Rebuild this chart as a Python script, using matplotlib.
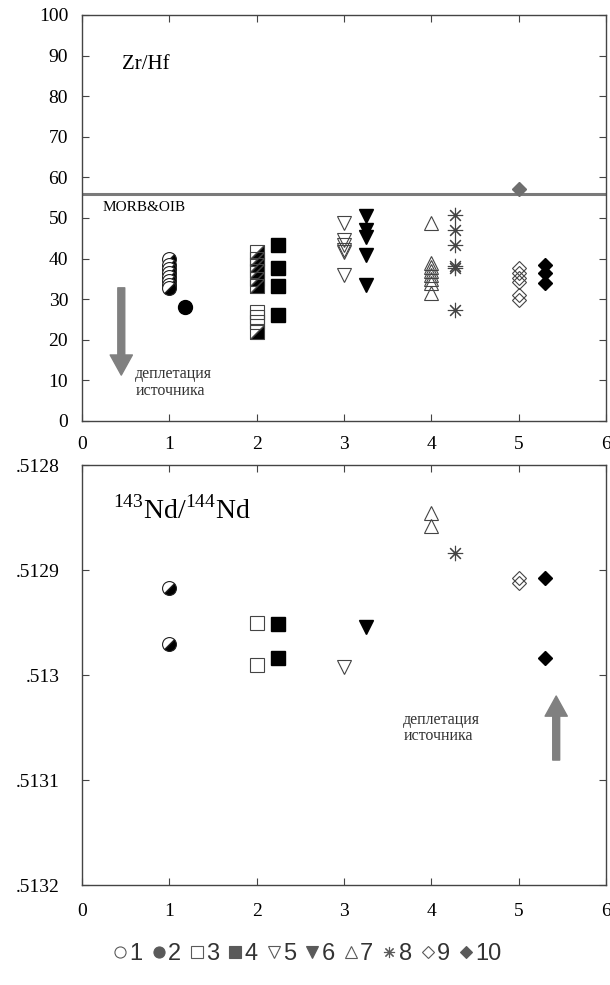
import matplotlib
matplotlib.use("Agg")
import matplotlib.pyplot as plt
from matplotlib.markers import MarkerStyle
from matplotlib.transforms import Affine2D
from matplotlib.lines import Line2D
from matplotlib.font_manager import FontProperties

plt.rcParams["font.family"] = ["Liberation Serif", "DejaVu Serif"]
plt.rcParams["mathtext.fontset"] = "custom"
plt.rcParams["mathtext.rm"] = "Liberation Serif"

# x position of every group (1..10) on the common x axis
group_x = [1.0, 1.18, 2.0, 2.25, 3.0, 3.25, 4.0, 4.27, 5.0, 5.3]

# Zr/Hf values per group
zr_g1 = [39.8, 38.5, 37.5, 36.5, 35.5, 34.5, 33.5, 32.7]
zr_g2 = [28.0]
zr_g3_half = [41.6, 40.0, 38.5, 37.0, 35.0, 33.2, 21.9]
zr_g3_open = [26.8, 25.6, 24.4]
zr_g4 = [43.3, 37.7, 33.3, 26.1]
zr_g5 = [48.8, 44.6, 43.3, 42.1, 41.5, 36.0]
zr_g6 = [50.5, 47.0, 45.3, 40.9, 33.5]
zr_g7 = [48.8, 39.0, 38.0, 37.0, 36.0, 35.0, 34.0, 31.5]
zr_g8 = [50.7, 47.0, 43.3, 38.2, 37.7, 27.3]
zr_g9 = [37.7, 36.5, 35.2, 34.2, 31.0, 29.8]
zr_g10 = [38.4, 36.5, 34.0]
zr_g10_grey = [57.1]
morb_oib = 56.0

# 143Nd/144Nd values per group
nd_g1 = [0.512917, 0.512970]
nd_g3 = [0.512950, 0.512990]
nd_g4 = [0.512951, 0.512984]
nd_g5 = [0.512992]
nd_g6 = [0.512954]
nd_g7 = [0.512846, 0.512858]
nd_g8 = [0.512884]
nd_g9 = [0.512908, 0.512912]
nd_g10 = [0.512908, 0.512984]

zr_ticks = [0, 10, 20, 30, 40, 50, 60, 70, 80, 90, 100]
nd_ticks = [0.5128, 0.5129, 0.5130, 0.5131, 0.5132]
nd_tick_labels = [".5128", ".5129", ".513", ".5131", ".5132"]
x_ticks = [0, 1, 2, 3, 4, 5, 6]
legend_labels = ["1", "2", "3", "4", "5", "6", "7", "8", "9", "10"]

EDGE = "#222222"
half_circle = MarkerStyle("o", fillstyle="right", transform=Affine2D().rotate_deg(-45))
half_square = MarkerStyle("D", fillstyle="right", transform=Affine2D().rotate_deg(-45))
asterisk = (8, 2, 0)

styles = {
    "half_circle": dict(marker=half_circle, ms=10, mfc="black", mfcalt="white", mec=EDGE, mew=0.8),
    "circle": dict(marker="o", ms=10, mfc="black", mec="black"),
    "half_square": dict(marker=half_square, ms=10, mfc="black", mfcalt="none", mec="#444444", mew=0.8),
    "open_square": dict(marker="s", ms=10, mfc="none", mec="#444444", mew=0.8),
    "square": dict(marker="s", ms=10, mfc="black", mec="black"),
    "open_down": dict(marker="v", ms=10, mfc="none", mec="#444444", mew=0.8),
    "down": dict(marker="v", ms=10, mfc="black", mec="black"),
    "open_up": dict(marker="^", ms=10, mfc="none", mec="#444444", mew=0.8),
    "star": dict(marker=asterisk, ms=11, mec="#444444", mew=0.8),
    "open_diamond": dict(marker="D", ms=7, mfc="none", mec="#444444", mew=0.8),
    "diamond": dict(marker="D", ms=7, mfc="black", mec="black"),
    "grey_diamond": dict(marker="D", ms=7, mfc="#6e6e6e", mec="#6e6e6e"),
}


def draw(ax, x, values, style):
    ax.plot([x] * len(values), values, linestyle="none", **styles[style])


def style_axes(ax):
    for spine in ax.spines.values():
        spine.set_color("#444444")
        spine.set_linewidth(1.0)
    ax.tick_params(direction="in", top=True, right=True, length=5, width=0.8,
                   color="#444444", labelsize=14)
    ax.set_xlim(0, 6)
    ax.set_xticks(x_ticks)


fig = plt.figure(figsize=(6.1, 9.85), dpi=100)
ax1 = fig.add_axes([0.1344, 0.5726, 0.859, 0.4122])
ax2 = fig.add_axes([0.1344, 0.1015, 0.859, 0.4264])

# ---- Zr/Hf ----
style_axes(ax1)
ax1.set_ylim(0, 100)
ax1.set_yticks(zr_ticks)
ax1.tick_params(axis="y", pad=10)
ax1.tick_params(axis="x", pad=11)
ax1.axhline(morb_oib, color="#7a7a7a", lw=2.2, zorder=1)

draw(ax1, group_x[0], zr_g1, "half_circle")
draw(ax1, group_x[1], zr_g2, "circle")
draw(ax1, group_x[2], zr_g3_open, "open_square")
draw(ax1, group_x[2], zr_g3_half, "half_square")
draw(ax1, group_x[3], zr_g4, "square")
draw(ax1, group_x[4], zr_g5, "open_down")
draw(ax1, group_x[5], zr_g6, "down")
draw(ax1, group_x[6], zr_g7, "open_up")
draw(ax1, group_x[7], zr_g8, "star")
draw(ax1, group_x[8], zr_g9, "open_diamond")
draw(ax1, group_x[9], zr_g10, "diamond")
draw(ax1, group_x[8], zr_g10_grey, "grey_diamond")

ax1.text(0.46, 87.7, "Zr/Hf", fontsize=15, va="center", ha="left")
ax1.text(0.24, 52.5, "MORB&OIB", fontsize=11, va="center", ha="left")
ax1.annotate("", xy=(0.45, 11.3), xytext=(0.45, 32.8),
             arrowprops=dict(arrowstyle="simple,head_length=1.45,head_width=1.6,tail_width=0.5",
                             color="#808080", shrinkA=0, shrinkB=0, mutation_scale=10))
ax1.text(0.61, 13.5, "деплетация\nисточника", fontsize=11.5, va="top", ha="left",
         color="#333333", linespacing=1.05)

# ---- 143Nd/144Nd ----
style_axes(ax2)
ax2.set_ylim(0.5132, 0.5128)
ax2.set_yticks(nd_ticks, nd_tick_labels)
ax2.tick_params(axis="y", pad=16)
ax2.tick_params(axis="x", pad=13)

draw(ax2, group_x[0], nd_g1, "half_circle")
draw(ax2, group_x[2], nd_g3, "open_square")
draw(ax2, group_x[3], nd_g4, "square")
draw(ax2, group_x[4], nd_g5, "open_down")
draw(ax2, group_x[5], nd_g6, "down")
draw(ax2, group_x[6], nd_g7, "open_up")
draw(ax2, group_x[7], nd_g8, "star")
draw(ax2, group_x[8], nd_g9, "open_diamond")
draw(ax2, group_x[9], nd_g10, "diamond")

ax2.text(0.35, 0.512843, r"$^{143}$Nd/$^{144}$Nd", fontsize=20, va="center", ha="left")
ax2.annotate("", xy=(5.43, 0.51302), xytext=(5.43, 0.513081),
             arrowprops=dict(arrowstyle="simple,head_length=1.45,head_width=1.6,tail_width=0.5",
                             color="#808080", shrinkA=0, shrinkB=0, mutation_scale=10))
ax2.text(3.68, 0.513035, "деплетация\nисточника", fontsize=11.5, va="top", ha="left",
         color="#333333", linespacing=1.05)

# ---- legend row ----
grey = "#5a5a5a"
legend_markers = [
    dict(marker="o", mfc="none", mec=grey),
    dict(marker="o", mfc=grey, mec=grey),
    dict(marker="s", mfc="none", mec=grey),
    dict(marker="s", mfc=grey, mec=grey),
    dict(marker="v", mfc="none", mec=grey),
    dict(marker="v", mfc=grey, mec=grey),
    dict(marker="^", mfc="none", mec=grey),
    dict(marker=asterisk, mec=grey),
    dict(marker="D", mfc="none", mec=grey, ms=6),
    dict(marker="D", mfc=grey, mec=grey, ms=6),
]
handles = []
for label, kw in zip(legend_labels, legend_markers):
    kw = dict(kw)
    kw.setdefault("ms", 8)
    handles.append(Line2D([], [], linestyle="none", mew=0.8, label=label, **kw))

fig.legend(handles=handles, loc="center", bbox_to_anchor=(0.505, 0.031), ncol=10,
           frameon=False, prop=FontProperties(family="Liberation Sans", size=17),
           handlelength=0.5, handletextpad=0.15, columnspacing=0.42, labelcolor="#333333",
           borderpad=0)

fig.savefig("out.png", dpi=100)
